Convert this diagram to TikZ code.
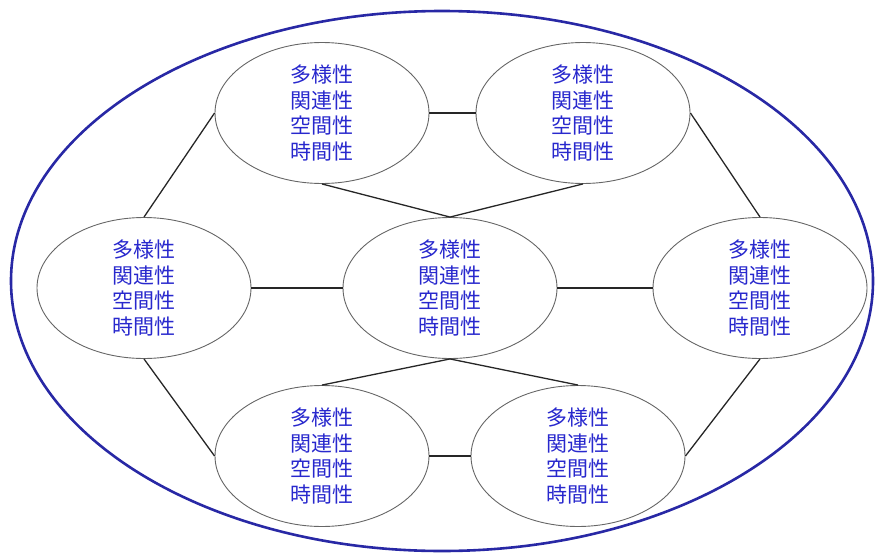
\documentclass[tikz,border=0pt]{standalone}
\usepackage{fontspec}
\newfontfamily\jpfont{Noto Sans CJK JP}
\usepackage{xcolor}
\usetikzlibrary{shapes.geometric}

\definecolor{txtblue}{RGB}{40,40,205}
\definecolor{rimblue}{RGB}{40,40,165}
\tikzset{
  cell/.style={ellipse, draw=black!60, line width=0.9pt, minimum width=214pt,
    minimum height=141pt, inner sep=0pt, align=center, text=txtblue,
    font=\jpfont\fontsize{21}{25.5}\selectfont},
  link/.style={draw=black!85, line width=1.3pt}
}
\newcommand{\fourfold}{多様性\\関連性\\空間性\\時間性}

\begin{document}
\begin{tikzpicture}[x=1pt,y=-1pt]
\useasboundingbox (0,0) rectangle (875,554);
\draw [rimblue, line width=2.6pt] (442,281) ellipse (431pt and 270pt);

\node[cell] (tl) at (322,113) {\fourfold};
\node[cell] (tr) at (583,113) {\fourfold};
\node[cell] (ml) at (144,288) {\fourfold};
\node[cell] (mc) at (450,288) {\fourfold};
\node[cell] (mr) at (760,288) {\fourfold};
\node[cell] (bl) at (322,456) {\fourfold};
\node[cell] (br) at (578,456) {\fourfold};

\draw [link] (tl.east)--(tr.west);
\draw [link] (tl.west)--(ml.north);
\draw [link] (tr.east)--(mr.north);
\draw [link] (tl.south)--(mc.north);
\draw [link] (tr.south)--(mc.north);
\draw [link] (ml.east)--(mc.west);
\draw [link] (mc.east)--(mr.west);
\draw [link] (mc.south)--(bl.north);
\draw [link] (mc.south)--(br.north);
\draw [link] (ml.south)--(bl.west);
\draw [link] (mr.south)--(br.east);
\draw [link] (bl.east)--(br.west);
\end{tikzpicture}
\end{document}
